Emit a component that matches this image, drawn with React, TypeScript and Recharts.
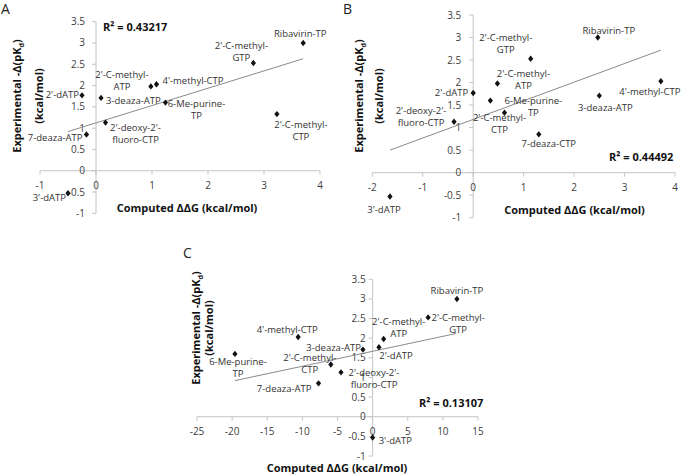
import React from 'react';
import { ScatterChart, Scatter, XAxis, YAxis, ReferenceLine, ReferenceDot } from 'recharts';

// compounds in the same order for all three panels
const compoundsA = ["Ribavirin-TP", "2'-C-methyl-GTP", "4'-methyl-CTP", "2'-C-methyl-ATP", "2'-dATP", "3-deaza-ATP", "6-Me-purine-TP", "2'-C-methyl-CTP", "2'-deoxy-2'-fluoro-CTP", "7-deaza-ATP", "3'-dATP"];
const compoundsB = ["Ribavirin-TP", "2'-C-methyl-GTP", "4'-methyl-CTP", "2'-C-methyl-ATP", "2'-dATP", "3-deaza-ATP", "6-Me-purine-TP", "2'-C-methyl-CTP", "2'-deoxy-2'-fluoro-CTP", "7-deaza-CTP", "3'-dATP"];
const compoundsC = compoundsA;

// experimental -Δ(pKd), shared by the panels
const experimental = [3.0, 2.53, 2.03, 1.98, 1.77, 1.71, 1.6, 1.33, 1.13, 0.85, -0.53];

// computed ΔΔG per panel
const ddgA = [3.7, 2.81, 1.08, 0.98, -0.25, 0.09, 1.24, 3.23, 0.17, -0.17, -0.5];
const ddgB = [2.47, 1.14, 3.72, 0.48, 0.0, 2.5, 0.34, 0.62, -0.38, 1.3, -1.65];
const ddgC = [12.0, 7.9, -10.6, 1.57, 0.9, -1.38, -19.6, -5.95, -4.5, -7.7, 0.0];

// linear trend line end points
const trendXA = [-0.5, 3.7];
const trendYA = [0.92, 2.63];
const trendXB = [-1.65, 3.72];
const trendYB = [0.5, 2.72];
const trendXC = [-19.6, 11.9];
const trendYC = [0.92, 2.12];

const yTicks = [-1, -0.5, 0, 0.5, 1, 1.5, 2, 2.5, 3, 3.5];
const xTicksA = [-1, 0, 1, 2, 3, 4];
const xTicksB = [-2, -1, 0, 1, 2, 3, 4];
const xTicksC = [-25, -20, -15, -10, -5, 0, 5, 10, 15];

const r2A = 'R² = 0.43217';
const r2B = 'R² = 0.44492';
const r2C = 'R² = 0.13107';

const FONT = '"Open Sans", sans-serif';
const AXIS_COLOR = '#c4c4c4';

type Placement = { anchor: 'start' | 'middle' | 'end'; dx: number; dy: number; wrap?: number };

// where each data label sits relative to its point
const placeA: Record<string, Placement> = {
  'Ribavirin-TP': { anchor: 'middle', dx: -3, dy: -9 },
  "2'-C-methyl-GTP": { anchor: 'middle', dx: -12, dy: -17, wrap: 12 },
  "4'-methyl-CTP": { anchor: 'start', dx: 6, dy: -4 },
  "2'-C-methyl-ATP": { anchor: 'middle', dx: -29, dy: -12, wrap: 12 },
  "2'-dATP": { anchor: 'end', dx: -3, dy: -1 },
  '3-deaza-ATP': { anchor: 'start', dx: 5, dy: 3 },
  '6-Me-purine-TP': { anchor: 'middle', dx: 31, dy: 1, wrap: 12 },
  "2'-C-methyl-CTP": { anchor: 'middle', dx: 24, dy: 11, wrap: 12 },
  "2'-deoxy-2'-fluoro-CTP": { anchor: 'middle', dx: 30, dy: 5, wrap: 12 },
  '7-deaza-ATP': { anchor: 'end', dx: -4, dy: 3 },
  "3'-dATP": { anchor: 'end', dx: -2, dy: 4 },
};

const placeB: Record<string, Placement> = {
  'Ribavirin-TP': { anchor: 'middle', dx: 11, dy: -7 },
  "2'-C-methyl-GTP": { anchor: 'middle', dx: -25, dy: -21, wrap: 12 },
  "4'-methyl-CTP": { anchor: 'middle', dx: -11, dy: 10 },
  "2'-C-methyl-ATP": { anchor: 'middle', dx: 26, dy: -10, wrap: 12 },
  "2'-dATP": { anchor: 'end', dx: -5, dy: 0 },
  '3-deaza-ATP': { anchor: 'middle', dx: 6, dy: 12 },
  '6-Me-purine-TP': { anchor: 'middle', dx: 43, dy: 0, wrap: 12 },
  "2'-C-methyl-CTP": { anchor: 'middle', dx: -5, dy: 5, wrap: 12 },
  "2'-deoxy-2'-fluoro-CTP": { anchor: 'middle', dx: -33, dy: -11, wrap: 12 },
  '7-deaza-CTP': { anchor: 'middle', dx: 10, dy: 9 },
  "3'-dATP": { anchor: 'middle', dx: -6, dy: 13 },
};

const placeC: Record<string, Placement> = {
  'Ribavirin-TP': { anchor: 'middle', dx: 0, dy: -8 },
  "2'-C-methyl-GTP": { anchor: 'middle', dx: 30, dy: 0, wrap: 12 },
  "4'-methyl-CTP": { anchor: 'middle', dx: -11, dy: -7 },
  "2'-C-methyl-ATP": { anchor: 'middle', dx: 15, dy: -17, wrap: 12 },
  "2'-dATP": { anchor: 'middle', dx: 17, dy: 8 },
  '3-deaza-ATP': { anchor: 'end', dx: -2, dy: -2 },
  '6-Me-purine-TP': { anchor: 'middle', dx: 3, dy: 8, wrap: 12 },
  "2'-C-methyl-CTP": { anchor: 'middle', dx: -21, dy: -7, wrap: 12 },
  "2'-deoxy-2'-fluoro-CTP": { anchor: 'middle', dx: 33, dy: 0, wrap: 12 },
  '7-deaza-ATP': { anchor: 'end', dx: -7, dy: 5 },
  "3'-dATP": { anchor: 'start', dx: 6, dy: 3 },
};

const toPoints = (names: string[], xs: number[]) =>
  names.map((name, i) => ({ name, x: xs[i], y: experimental[i] }));
const toLine = (xs: number[], ys: number[]) => xs.map((x, i) => ({ x, y: ys[i] }));

const makeShape = (place: Record<string, Placement>) => (props: any) => {
  const { cx, cy, payload } = props;
  const p = place[payload.name] ?? { anchor: 'start', dx: 5, dy: 0 };
  const lines = p.wrap ? [payload.name.slice(0, p.wrap), payload.name.slice(p.wrap)] : [payload.name];
  return (
    <g>
      <path d={`M${cx},${cy - 3.2}L${cx + 2.6},${cy}L${cx},${cy + 3.2}L${cx - 2.6},${cy}Z`} fill="#111" />
      <text textAnchor={p.anchor} fontSize={9.5} fontFamily={FONT} fill="#333">
        {lines.map((l: string, i: number) => (
          <tspan key={i} x={cx + p.dx} y={cy + p.dy + i * 12} dy="0.35em">{l}</tspan>
        ))}
      </text>
    </g>
  );
};

const noDot = () => <g />;

interface PanelProps {
  letter: string;
  letterPos: [number, number];
  box: { left: number; top: number; width: number; height: number };
  margin: { top: number; right: number; bottom: number; left: number };
  xDomain: [number, number];
  xTicks: number[];
  points: { name: string; x: number; y: number }[];
  trend: { x: number; y: number }[];
  place: Record<string, Placement>;
  r2: string;
  r2Pos: [number, number];
  xTitlePos: [number, number];
  yTitlePos: [number, number, number];
  yTickGap: number;
}

const Panel: React.FC<PanelProps> = (p) => {
  const { box } = p;
  return (
    <div style={{ position: 'absolute', left: box.left, top: box.top, width: box.width, height: box.height }}>
      <ScatterChart width={box.width} height={box.height} margin={p.margin}>
        <XAxis type="number" dataKey="x" domain={p.xDomain} hide />
        <YAxis type="number" dataKey="y" domain={[-1, 3.5]} hide />
        <ReferenceLine x={0} stroke={AXIS_COLOR} strokeWidth={1} />
        <ReferenceLine y={0} stroke={AXIS_COLOR} strokeWidth={1} />
        {p.xTicks.map((t) => (
          <ReferenceDot
            key={`x${t}`}
            x={t}
            y={0}
            ifOverflow="visible"
            shape={(d: any) => (
              <g>
                <line x1={d.cx} x2={d.cx} y1={d.cy} y2={d.cy + 4} stroke={AXIS_COLOR} />
                <text x={d.cx} y={d.cy + 15} dy="0.35em" textAnchor="middle" fontSize={10} fontFamily={FONT} fill="#404040">{t}</text>
              </g>
            )}
          />
        ))}
        {yTicks.map((t) => (
          <ReferenceDot
            key={`y${t}`}
            x={0}
            y={t}
            ifOverflow="visible"
            shape={(d: any) => (
              <g>
                <line x1={d.cx - 4} x2={d.cx} y1={d.cy} y2={d.cy} stroke={AXIS_COLOR} />
                <text x={d.cx - p.yTickGap} y={d.cy} dy="0.35em" textAnchor="end" fontSize={10} fontFamily={FONT} fill="#404040">{t}</text>
              </g>
            )}
          />
        ))}
        <Scatter data={p.trend} line={{ stroke: '#8a8a8a', strokeWidth: 1 }} shape={noDot} isAnimationActive={false} />
        <Scatter data={p.points} shape={makeShape(p.place)} isAnimationActive={false} />
      </ScatterChart>
      <svg width={box.width} height={box.height} style={{ position: 'absolute', left: 0, top: 0, pointerEvents: 'none' }} fontFamily={FONT}>
        <text x={p.letterPos[0]} y={p.letterPos[1]} fontSize={14} fill="#222">{p.letter}</text>
        <text x={p.r2Pos[0]} y={p.r2Pos[1]} dy="0.35em" fontSize={11} fontWeight="bold" fill="#111">{p.r2}</text>
        <text x={p.xTitlePos[0]} y={p.xTitlePos[1]} dy="0.35em" textAnchor="middle" fontSize={11} fontWeight="bold" fill="#111">
          Computed ΔΔG (kcal/mol)
        </text>
        <text transform={`translate(${p.yTitlePos[0]},${p.yTitlePos[2]}) rotate(-90)`} dy="0.35em" textAnchor="middle" fontSize={11} fontWeight="bold" fill="#111">
          Experimental -Δ(pK<tspan fontSize={7} dy="3">d</tspan><tspan dy="-3">)</tspan>
        </text>
        <text transform={`translate(${p.yTitlePos[1]},${p.yTitlePos[2]}) rotate(-90)`} dy="0.35em" textAnchor="middle" fontSize={11} fontWeight="bold" fill="#111">
          (kcal/mol)
        </text>
      </svg>
    </div>
  );
};

export default function App() {
  return (
    <div style={{ position: 'absolute', left: 0, top: 0, width: 683, height: 474, background: '#fff' }}>
      <Panel
        letter="A"
        letterPos={[1, 14]}
        box={{ left: 0, top: 0, width: 340, height: 230 }}
        margin={{ top: 21.7, right: 20, bottom: 16.7, left: 40 }}
        xDomain={[-1, 4]}
        xTicks={xTicksA}
        points={toPoints(compoundsA, ddgA)}
        trend={toLine(trendXA, trendYA)}
        place={placeA}
        r2={r2A}
        r2Pos={[103, 27]}
        xTitlePos={[187, 208]}
        yTitlePos={[17, 39, 96]}
        yTickGap={11}
      />
      <Panel
        letter="B"
        letterPos={[3, 14]}
        box={{ left: 340, top: 0, width: 343, height: 230 }}
        margin={{ top: 15, right: 8, bottom: 12.3, left: 32.3 }}
        xDomain={[-2, 4]}
        xTicks={xTicksB}
        points={toPoints(compoundsB, ddgB)}
        trend={toLine(trendXB, trendYB)}
        place={placeB}
        r2={r2B}
        r2Pos={[269, 157]}
        xTitlePos={[234.5, 210]}
        yTitlePos={[19, 39, 96]}
        yTickGap={12}
      />
      <Panel
        letter="C"
        letterPos={[43, 28]}
        box={{ left: 140, top: 230, width: 380, height: 244 }}
        margin={{ top: 49.3, right: 42, bottom: 18, left: 57 }}
        xDomain={[-25, 15]}
        xTicks={xTicksC}
        points={toPoints(compoundsC, ddgC)}
        trend={toLine(trendXC, trendYC)}
        place={placeC}
        r2={r2C}
        r2Pos={[279, 173]}
        xTitlePos={[197, 238]}
        yTitlePos={[56, 69, 98]}
        yTickGap={7}
      />
    </div>
  );
}
